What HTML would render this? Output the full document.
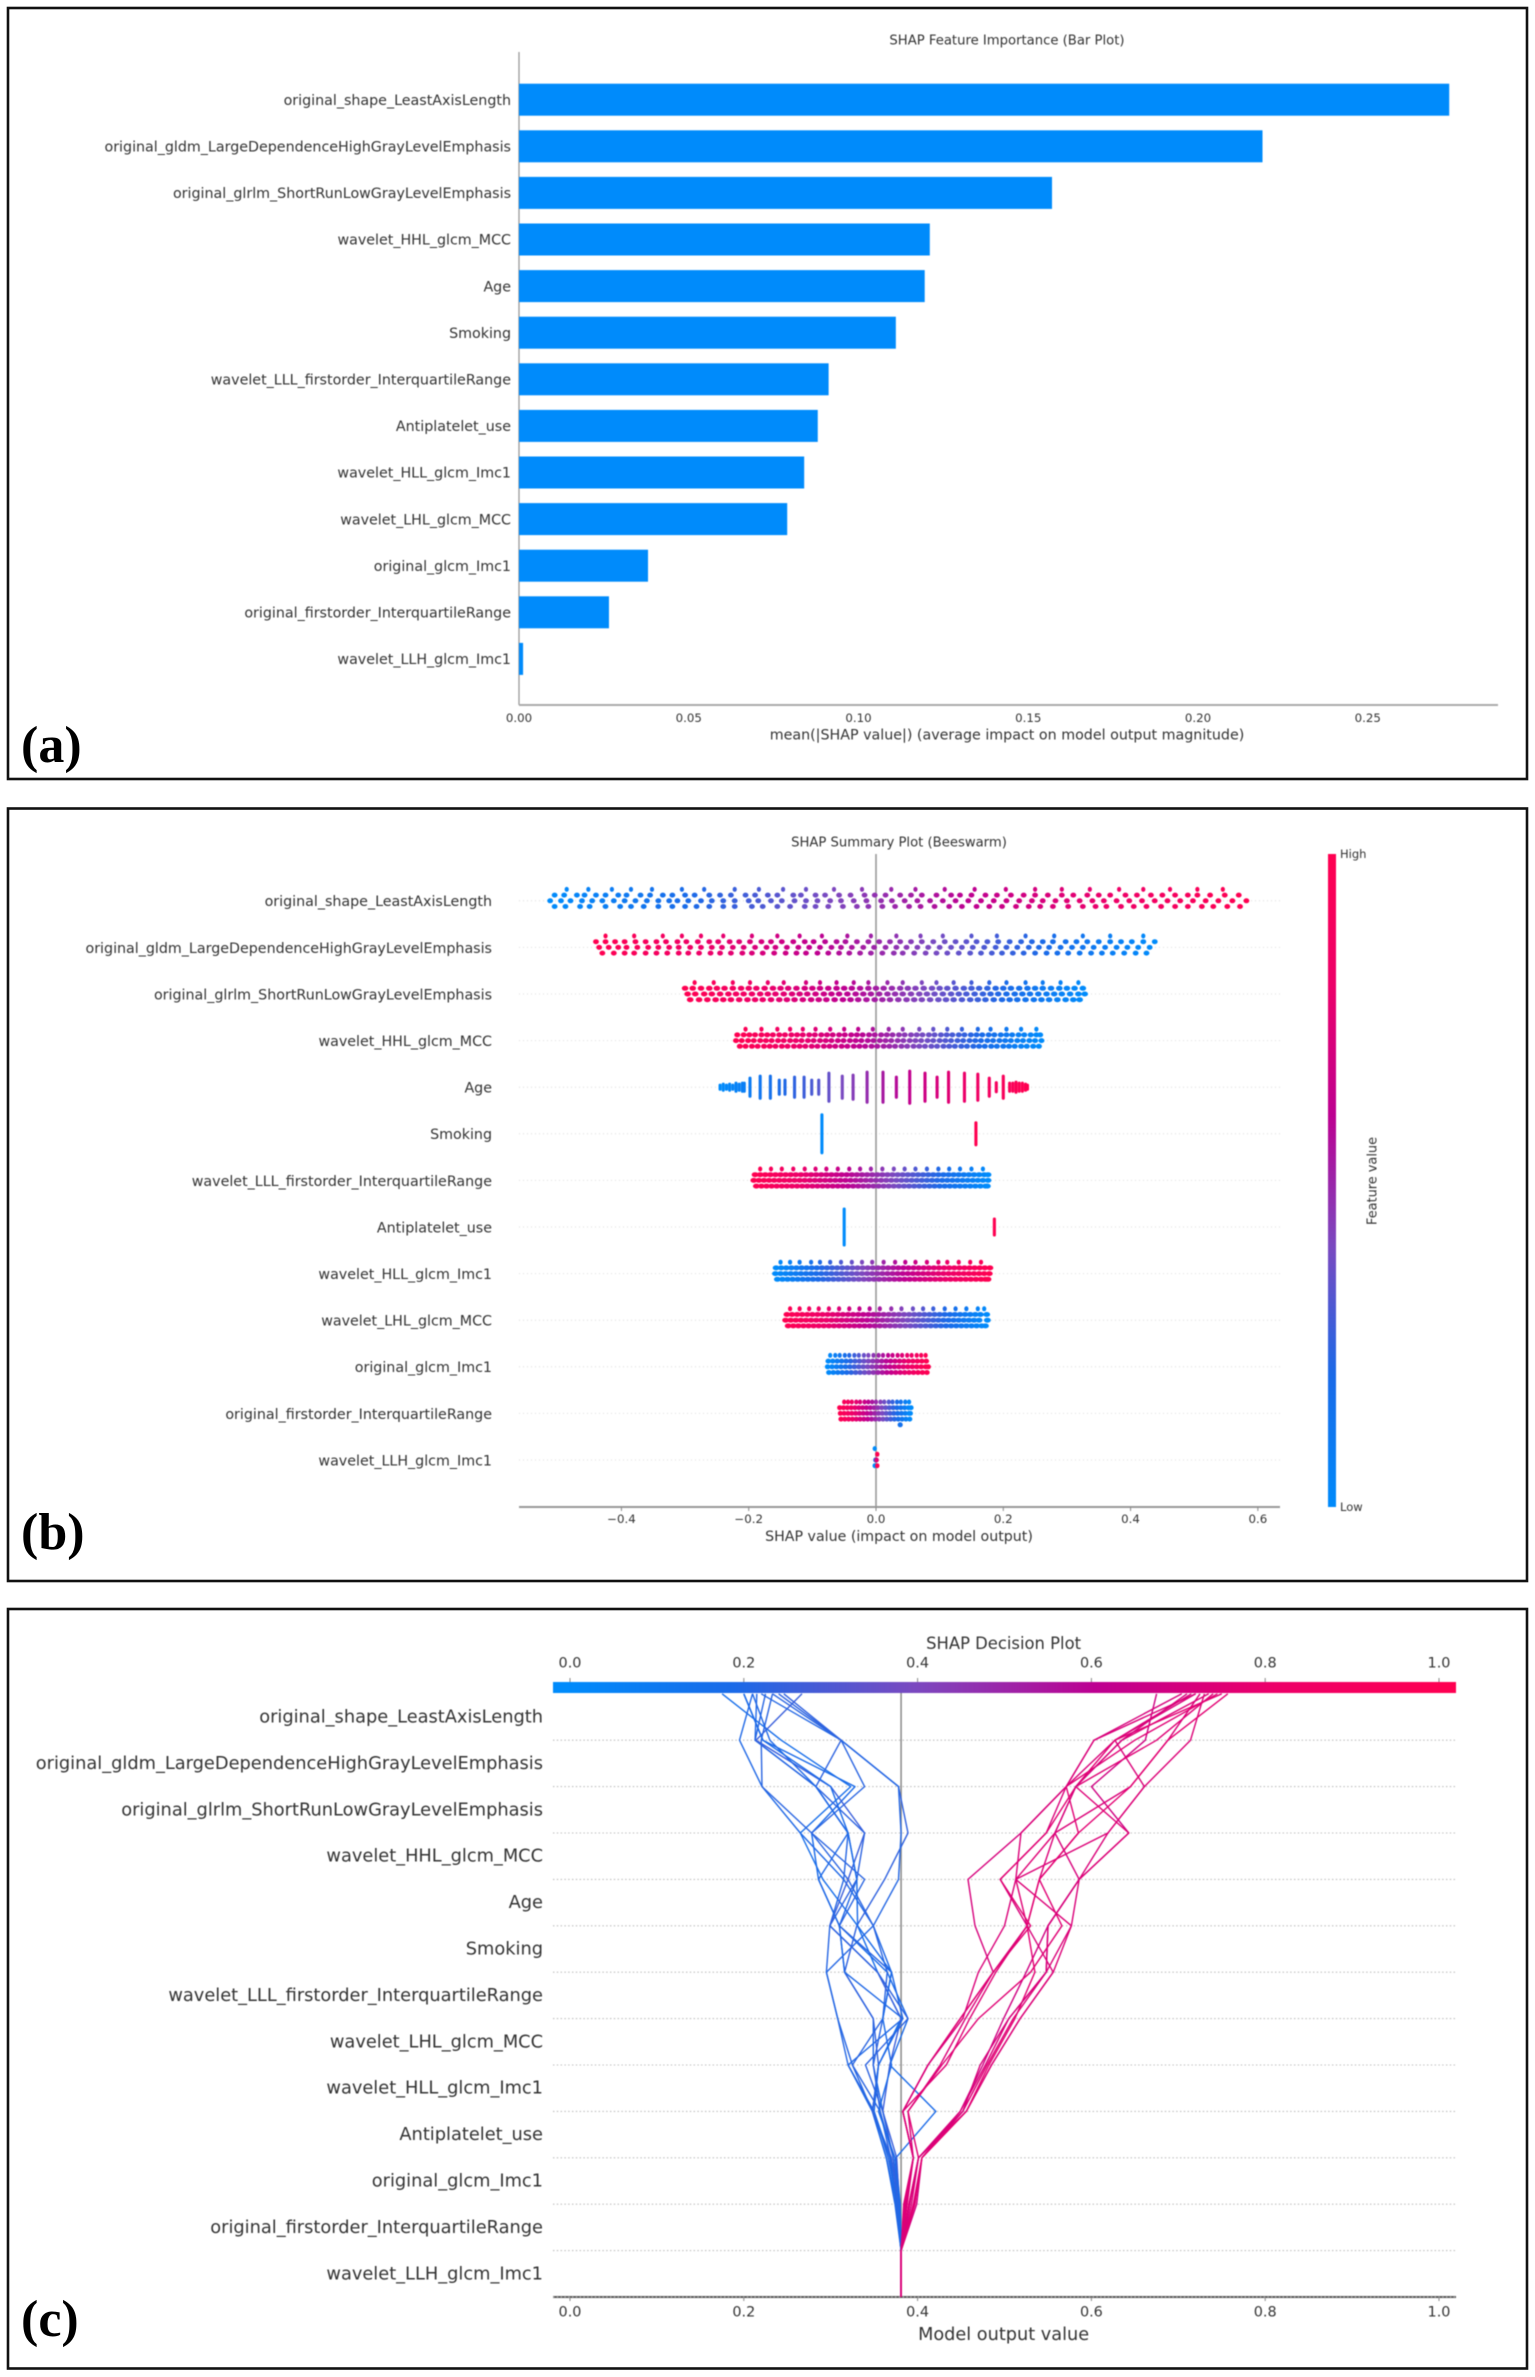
<!DOCTYPE html>
<html lang="en">
<head>
<meta charset="utf-8">
<title>SHAP analysis panels</title>
<style>
html,body{margin:0;padding:0;background:#fff;width:1535px;height:2377px;overflow:hidden}
svg{display:block;position:absolute;left:0;top:0}
text{font-family:"DejaVu Sans","Liberation Sans",sans-serif;fill:#333}
.letter{font-family:"Liberation Serif",serif;font-weight:bold;fill:#000;font-size:52px}
#panelA,#panelB,#panelC{filter:blur(0.45px)}
</style>
</head>
<body>
<svg id="fig" xmlns="http://www.w3.org/2000/svg" width="1535" height="2377" viewBox="0 0 1535 2377">
  <defs>
    <linearGradient id="cbarH" x1="0" x2="1" y1="0" y2="0">
      <stop offset="0.016" stop-color="#008bfb"/><stop offset="0.2" stop-color="#1a6ae8"/><stop offset="0.4" stop-color="#7a49c0"/><stop offset="0.6" stop-color="#bd0091"/><stop offset="0.8" stop-color="#ed0069"/><stop offset="1" stop-color="#ff0051"/>
    </linearGradient>
    <linearGradient id="cbarV" x1="0" x2="0" y1="1" y2="0">
      <stop offset="0" stop-color="#008bfb"/><stop offset="0.2" stop-color="#1a6ae8"/><stop offset="0.4" stop-color="#7a49c0"/><stop offset="0.6" stop-color="#bd0091"/><stop offset="0.8" stop-color="#ed0069"/><stop offset="1" stop-color="#ff0051"/>
    </linearGradient>
  </defs>
  <rect x="8" y="8" width="1519" height="771" fill="none" stroke="#111" stroke-width="2.6"/>
  <rect x="8" y="808.5" width="1519" height="772.5" fill="none" stroke="#111" stroke-width="2.6"/>
  <rect x="8" y="1609" width="1519" height="759.5" fill="none" stroke="#111" stroke-width="2.6"/>
  <text class="letter" x="21" y="762">(a)</text>
  <text class="letter" x="21" y="1549">(b)</text>
  <text class="letter" x="21" y="2336">(c)</text>
  <g id="panelA"></g>
  <g id="panelB"></g>
  <g id="panelC"></g>
</svg>
<script>
/* ---------- Panel (a): bar plot data ---------- */
const featureNames = ["original_shape_LeastAxisLength","original_gldm_LargeDependenceHighGrayLevelEmphasis","original_glrlm_ShortRunLowGrayLevelEmphasis","wavelet_HHL_glcm_MCC","Age","Smoking","wavelet_LLL_firstorder_InterquartileRange","Antiplatelet_use","wavelet_HLL_glcm_Imc1","wavelet_LHL_glcm_MCC","original_glcm_Imc1","original_firstorder_InterquartileRange","wavelet_LLH_glcm_Imc1"];
const meanAbsShap = [0.274,0.219,0.157,0.121,0.1195,0.111,0.0912,0.088,0.084,0.079,0.038,0.0265,0.0012];
const barTicks = [0,0.05,0.10,0.15,0.20,0.25];
const barTickLabels = ["0.00","0.05","0.10","0.15","0.20","0.25"];

/* ---------- Panel (b): beeswarm data (SHAP values x 1000, one list per swarm lane) ---------- */
const swarmTicks = [-0.4,-0.2,0,0.2,0.4,0.6];
const swarmTickLabels = ["\u22120.4","\u22120.2","0.0","0.2","0.4","0.6"];
const swarmLanes = [-2,-1,0,1,2];
const swarmDirection = [1,-1,-1,-1,1,1,-1,1,1,-1,1,-1,1];
const swarmShape = [
[-486,-452,-415,-385,-352,-305,-270,-222,-184,-146,-110,-66,-22,24,62,108,155,204,250,292,336,382,420,462,505,545],
[-505,-490,-470,-458,-440,-425,-405,-392,-370,-355,-335,-320,-300,-285,-262,-245,-228,-205,-190,-170,-155,-130,-118,-95,-80,-58,-40,-18,-2,15,38,55,72,95,118,132,150,172,190,212,232,250,270,292,310,332,350,368,392,410,432,450,470,490,505,525,548,570],
[-512,-495,-480,-462,-446,-430,-412,-395,-378,-360,-342,-325,-312,-295,-275,-258,-240,-222,-200,-185,-165,-148,-128,-110,-92,-72,-55,-35,-15,8,25,45,65,85,105,125,145,165,185,205,225,245,262,282,300,320,340,358,378,398,418,438,458,478,498,518,538,560,582],
[-505,-488,-465,-450,-425,-402,-385,-365,-342,-320,-300,-282,-262,-240,-222,-195,-178,-155,-135,-112,-95,-75,-52,-30,-12,10,30,52,70,92,115,135,158,178,198,220,240,258,278,302,325,345,362,385,405,425,448,470,490,512,530,552,572]];
const swarmGldm = [
[-425,-380,-335,-305,-275,-240,-195,-155,-120,-85,-45,-8,32,70,105,150,190,235,280,325,368,420],
[-440,-425,-410,-395,-378,-362,-345,-330,-312,-298,-280,-262,-248,-230,-215,-198,-180,-165,-148,-130,-112,-98,-80,-62,-48,-30,-12,5,22,38,55,72,90,108,125,142,158,175,192,210,228,245,262,278,298,315,332,350,368,385,402,420,438],
[-435,-420,-405,-392,-375,-358,-342,-325,-310,-292,-275,-258,-242,-225,-208,-190,-172,-158,-140,-122,-105,-88,-70,-55,-38,-20,-3,15,32,48,65,82,100,118,135,152,170,188,205,222,240,256,272,290,308,325,342,360,378,395,412,430],
[-430,-412,-395,-380,-362,-345,-328,-310,-295,-278,-260,-245,-228,-210,-195,-178,-160,-142,-125,-110,-92,-75,-58,-42,-25,-8,10,28,42,60,78,95,112,130,148,165,182,198,215,232,250,268,285,302,320,338,355,372,390,408,425]];
const swarmGlrlm = [
[-285,-255,-225,-198,-170,-145,-110,-88,-62,-35,-12,18,42,72,95,122,150,178,205,235,262,290,318],
[-300,-288,-275,-262,-250,-238,-225,-212,-200,-188,-175,-162,-150,-138,-125,-112,-100,-88,-75,-62,-50,-38,-25,-12,0,12,25,38,50,62,75,88,100,112,125,138,150,162,175,188,200,212,225,238,250,262,275,288,300,312,325],
[-296,-284,-270,-258,-245,-232,-220,-208,-195,-182,-170,-158,-145,-132,-120,-108,-95,-82,-70,-58,-45,-32,-20,-8,5,18,30,42,55,68,80,92,105,118,130,142,155,168,180,192,205,218,230,242,255,268,280,292,305,318,328],
[-292,-278,-265,-252,-240,-228,-215,-202,-190,-178,-165,-152,-140,-128,-115,-102,-90,-78,-65,-52,-40,-28,-15,-2,10,22,35,48,60,72,85,98,110,122,135,148,160,172,185,198,210,222,235,248,260,272,285,298,310,320]];
const swarmHhl = [
[-205,-180,-155,-135,-115,-95,-72,-50,-28,-5,20,42,68,90,112,135,160,180,205,228,252],
[-218,-208,-199,-190,-180,-171,-162,-152,-143,-133,-124,-115,-105,-96,-86,-77,-68,-58,-49,-39,-30,-21,-11,-2,8,17,26,36,45,55,64,73,83,92,102,111,120,130,139,149,158,167,177,186,196,205,214,224,233,243,252,258],
[-220,-211,-201,-192,-182,-173,-164,-154,-145,-135,-126,-117,-107,-98,-88,-79,-70,-60,-51,-41,-32,-23,-13,-4,6,15,24,34,43,53,62,71,81,90,100,109,118,128,137,147,156,165,175,184,194,203,212,222,231,241,250,260],
[-214,-205,-195,-186,-176,-167,-158,-148,-139,-129,-120,-111,-101,-92,-82,-73,-64,-54,-45,-35,-26,-17,-7,2,12,21,30,40,49,59,68,77,87,96,106,115,124,134,143,153,162,171,181,190,200,209,218,228,237,247,256]];
const swarmLll = [
[-182,-165,-148,-130,-112,-95,-78,-60,-42,-25,-8,10,28,45,62,80,98,115,132,150,168],
[-190,-182,-174,-166,-158,-150,-142,-134,-126,-118,-110,-102,-94,-86,-78,-70,-62,-54,-46,-38,-30,-22,-14,-6,2,10,18,26,34,42,50,58,66,74,82,90,98,106,114,122,130,138,146,154,162,170,176],
[-192,-184,-176,-168,-160,-152,-144,-136,-128,-120,-112,-104,-96,-88,-80,-72,-64,-56,-48,-40,-32,-24,-16,-8,0,8,16,24,32,40,48,56,64,72,80,88,96,104,112,120,128,136,144,152,160,168,176],
[-188,-180,-172,-164,-156,-148,-140,-132,-124,-116,-108,-100,-92,-84,-76,-68,-60,-52,-44,-36,-28,-20,-12,-4,4,12,20,28,36,44,52,60,68,76,84,92,100,108,116,124,132,140,148,156,164,172,175]];
const swarmHll = [
[-150,-135,-120,-102,-88,-72,-55,-38,-22,-6,12,30,46,62,80,98,112,130,148,165],
[-157,-149,-141,-133,-125,-117,-109,-101,-93,-85,-77,-69,-61,-53,-45,-37,-29,-21,-13,-5,3,11,19,27,35,43,51,59,67,75,83,91,99,107,115,123,131,139,147,155,163,171,179],
[-158,-150,-142,-134,-126,-118,-110,-102,-94,-86,-78,-70,-62,-54,-46,-38,-30,-22,-14,-6,2,10,18,26,34,42,50,58,66,74,82,90,98,106,114,122,130,138,146,154,162,170,178],
[-155,-147,-139,-131,-123,-115,-107,-99,-91,-83,-75,-67,-59,-51,-43,-35,-27,-19,-11,-3,5,13,21,29,37,45,53,61,69,77,85,93,101,109,117,125,133,141,149,157,165,172,176]];
const swarmLhl = [
[-135,-120,-105,-90,-74,-58,-42,-26,-10,6,24,40,58,74,90,108,125,142,160,170],
[-140,-132,-124,-116,-108,-100,-92,-84,-76,-68,-60,-52,-44,-36,-28,-20,-12,-4,4,12,20,28,36,44,52,60,68,76,84,92,100,108,116,124,132,140,148,156,164,174],
[-142,-134,-126,-118,-110,-102,-94,-86,-78,-70,-62,-54,-46,-38,-30,-22,-14,-6,2,10,18,26,34,42,50,58,66,74,82,90,98,106,114,122,130,138,146,154,162,175],
[-138,-130,-122,-114,-106,-98,-90,-82,-74,-66,-58,-50,-42,-34,-26,-18,-10,-2,6,14,22,30,38,46,54,62,70,78,86,94,102,110,118,126,134,142,150,158,166,172]];
const swarmImc = [
[-72,-64,-57,-49,-42,-34,-27,-19,-12,-4,4,11,19,26,34,41,49,56,64,71,78],
[-75,-68,-61,-54,-47,-40,-33,-26,-19,-12,-5,2,9,16,23,30,37,44,51,58,65,72,79],
[-76,-69,-62,-55,-48,-41,-34,-27,-20,-13,-6,1,8,15,22,29,36,43,50,57,64,71,78,82],
[-74,-67,-60,-53,-46,-39,-32,-25,-18,-11,-4,3,10,17,24,31,38,45,52,59,66,73,80]];
const swarmFirst = [
[-50,-44,-38,-31,-25,-18,-12,-6,0,7,13,20,26,33,39,46,52],
[-57,-51,-45,-39,-33,-27,-21,-15,-9,-3,3,9,15,21,27,33,39,45,51,55],
[-56,-50,-44,-38,-32,-26,-20,-14,-8,-2,4,10,16,22,28,34,40,46,52,54],
[-55,-49,-43,-37,-31,-25,-19,-13,-7,-1,5,11,17,23,29,35,41,47,53],
[38]];
const swarmLlh = [[-2],[2],[-1,1],[-2,2]];
const ageShap = [-0.245,-0.24,-0.235,-0.23,-0.225,-0.22,-0.215,-0.21,-0.207,-0.198,-0.182,-0.166,-0.152,-0.143,-0.128,-0.113,-0.101,-0.09,-0.074,-0.053,-0.036,-0.014,0.011,0.032,0.053,0.077,0.096,0.114,0.139,0.16,0.178,0.189,0.2,0.21,0.215,0.22,0.225,0.23,0.235,0.238];
const ageStack = [2,3,2,3,2,4,3,4,4,9,11,11,7,7,10,10,7,7,14,11,12,15,15,10,16,14,10,15,14,13,9,4.5,11,4,4,5,4,4,3,2];
const smokingShap = [-0.085,0.157];
const smokingStack = [19,11];
const antiplateletShap = [-0.05,0.186];
const antiplateletStack = [18,8];
const featureValueLabels = ["High","Low"];

/* ---------- Panel (c): decision plot data ---------- */
const decisionNames = ["original_shape_LeastAxisLength","original_gldm_LargeDependenceHighGrayLevelEmphasis","original_glrlm_ShortRunLowGrayLevelEmphasis","wavelet_HHL_glcm_MCC","Age","Smoking","wavelet_LLL_firstorder_InterquartileRange","wavelet_LHL_glcm_MCC","wavelet_HLL_glcm_Imc1","Antiplatelet_use","original_glcm_Imc1","original_firstorder_InterquartileRange","wavelet_LLH_glcm_Imc1"];
const decisionTicks = [0,0.2,0.4,0.6,0.8,1.0];
const decisionTickLabels = ["0.0","0.2","0.4","0.6","0.8","1.0"];
const baseValue = 0.381;
const blueSamples = [
[.175,.243,.323,.265,.291,.331,.354,.381,.355,.348,.364,.376,.381,.381],
[.2,.222,.328,.278,.286,.31,.365,.389,.368,.421,.375,.38,.381,.381],
[.21,.195,.221,.265,.315,.349,.37,.383,.32,.348,.364,.374,.381,.381],
[.215,.213,.283,.32,.33,.31,.316,.349,.349,.36,.372,.376,.381,.381],
[.225,.213,.283,.32,.315,.299,.295,.308,.325,.348,.368,.375,.381,.381],
[.233,.312,.339,.278,.32,.349,.365,.36,.349,.357,.369,.376,.381,.381],
[.246,.312,.378,.389,.362,.33,.316,.349,.355,.348,.37,.378,.381,.381],
[.267,.214,.30,.339,.32,.299,.354,.381,.368,.36,.376,.379,.381,.381],
[.233,.22,.221,.278,.339,.31,.37,.36,.325,.357,.372,.38,.381,.381],
[.22,.312,.378,.381,.378,.349,.295,.308,.32,.35,.366,.377,.381,.381],
[.24,.312,.283,.339,.33,.299,.354,.389,.34,.36,.372,.378,.381,.381],
[.21,.23,.283,.32,.286,.31,.316,.383,.355,.35,.368,.376,.381,.381],
[.2,.222,.30,.32,.33,.331,.37,.36,.37,.355,.374,.379,.381,.381]];
const pinkSamples = [
[.675,.662,.60,.643,.586,.55,.525,.499,.475,.449,.405,.399,.381,.381],
[.704,.603,.571,.519,.458,.466,.487,.449,.412,.383,.395,.385,.381,.381],
[.715,.627,.571,.548,.495,.526,.556,.518,.485,.456,.401,.39,.381,.381],
[.735,.635,.582,.643,.586,.55,.548,.51,.48,.452,.405,.395,.381,.381],
[.72,.627,.661,.619,.586,.577,.548,.505,.478,.449,.401,.393,.381,.381],
[.725,.688,.645,.558,.54,.526,.487,.455,.426,.389,.395,.386,.381,.381],
[.73,.714,.661,.619,.513,.577,.556,.518,.485,.456,.405,.396,.381,.381],
[.74,.675,.582,.558,.513,.526,.49,.46,.433,.383,.395,.384,.381,.381],
[.745,.65,.571,.585,.54,.566,.53,.47,.428,.389,.401,.39,.381,.381],
[.75,.627,.582,.548,.495,.53,.487,.449,.412,.383,.395,.388,.381,.381],
[.757,.688,.645,.585,.54,.526,.535,.512,.482,.456,.405,.397,.381,.381],
[.71,.635,.582,.558,.586,.55,.548,.505,.472,.452,.401,.391,.381,.381],
[.72,.603,.571,.519,.513,.50,.47,.452,.412,.383,.395,.387,.381,.381]];

/* ---------- Helpers ---------- */
const NS = "http://www.w3.org/2000/svg";
function mk(parent, tag, attrs, txt){
  const el = document.createElementNS(NS, tag);
  for (const k in attrs) el.setAttribute(k, attrs[k]);
  if (txt !== undefined) el.textContent = txt;
  parent.appendChild(el);
  return el;
}
const colorStops = [[0,[0,139,251]],[.2,[26,106,232]],[.4,[122,73,192]],[.6,[189,0,145]],[.8,[237,0,105]],[1,[255,0,81]]];
function shapColor(t){
  t = Math.max(0, Math.min(1, t));
  for (let i = 1; i < colorStops.length; i++){
    if (t <= colorStops[i][0]){
      const a = colorStops[i-1], b = colorStops[i], f = (t-a[0])/(b[0]-a[0]);
      const c = a[1].map((v,j)=>Math.round(v+(b[1][j]-v)*f));
      return "rgb("+c.join(",")+")";
    }
  }
  return "rgb(255,0,81)";
}

/* ---------- Panel (a) ---------- */
const pa = document.getElementById("panelA");
const xA = v => 519 + v*3395;
const yA = i => 99.7 + i*46.6;
{
  let e;
  e = mk(pa,"text",{x:1007,y:41,"text-anchor":"middle","dominant-baseline":"central","font-size":13.2},"SHAP Feature Importance (Bar Plot)");
  
  
  e = mk(pa,"text",{x:1007,y:735.5,"text-anchor":"middle","dominant-baseline":"central","font-size":14.26},"mean(|SHAP value|) (average impact on model output magnitude)");
  
  
  e = mk(pa,"line",{x1:519,x2:519,y1:52,y2:705,stroke:"#999","stroke-width":1.3});
  
  
  e = mk(pa,"line",{x1:519,x2:1498,y1:705,y2:705,stroke:"#aaa","stroke-width":2});
  
  
}
meanAbsShap.forEach((v,i)=>{
  const bar = mk(pa,"rect",{x:xA(0),y:yA(i)-16,width:xA(v)-xA(0),height:32,fill:"#008bfb"});
  
  
  const lab = mk(pa,"text",{x:511,y:yA(i)+1.2,"text-anchor":"end","dominant-baseline":"central","font-size":14.26},featureNames[i]);
  
  
});
barTicks.forEach((v,i)=>{
  const t = mk(pa,"text",{x:xA(v),y:718,"text-anchor":"middle","dominant-baseline":"central","font-size":11.8,fill:"#444"},barTickLabels[i]);
  
  
});

/* ---------- Panel (b) ---------- */
const pb = document.getElementById("panelB");
const xB = v => 876 + v*636.4;
const yB = i => 900.8 + i*46.6;
const swarmDotHalfWidth = [2.9,2.9,3.3,3,0,0,3.4,0,3.4,3.4,2.8,2.6,2.2];
{
  let e;
  e = mk(pb,"text",{x:899,y:843,"text-anchor":"middle","dominant-baseline":"central","font-size":13.2},"SHAP Summary Plot (Beeswarm)");
  
  
  e = mk(pb,"text",{x:899,y:1537,"text-anchor":"middle","dominant-baseline":"central","font-size":14.2},"SHAP value (impact on model output)");
  
  
  e = mk(pb,"line",{x1:519,x2:1280,y1:1507,y2:1507,stroke:"#999","stroke-width":2});
  
  
  e = mk(pb,"rect",{x:1328,y:854,width:8,height:653,fill:"url(#cbarV)"});
  
  
  e = mk(pb,"text",{x:1340,y:854,"dominant-baseline":"central","font-size":11.5},featureValueLabels[0]);
  
  
  e = mk(pb,"text",{x:1340,y:1507,"dominant-baseline":"central","font-size":11.5},featureValueLabels[1]);
  
  
  e = mk(pb,"text",{transform:"translate(1373,1181) rotate(-90)","text-anchor":"middle","dominant-baseline":"central","font-size":12.9},"Feature value");
  
  
}
featureNames.forEach((n,i)=>{
  const g = mk(pb,"line",{x1:519,x2:1280,y1:yB(i),y2:yB(i),stroke:"#ddd","stroke-width":1,"stroke-dasharray":"1 3"});
  
  
  const lab = mk(pb,"text",{x:492,y:yB(i)+1.4,"text-anchor":"end","dominant-baseline":"central","font-size":14.26},n);
  
  
});
{
  const z = mk(pb,"line",{x1:xB(0),x2:xB(0),y1:854,y2:1507,stroke:"#999","stroke-width":1.6});
  
  
}
function drawSwarm(row, lanes){
  const all = lanes.flat();
  const lo = Math.min(...all), hi = Math.max(...all);
  lanes.forEach((vals,l)=>{
    vals.forEach(v=>{
      let t = (v-lo)/(hi-lo);
      if (swarmDirection[row] < 0) t = 1-t;
      const c = mk(pb,"ellipse",{cx:xB(v/1000),cy:yB(row)+swarmLanes[l]*5.7,rx:l === 0 ? 2.1 : swarmDotHalfWidth[row],ry:2.5,fill:shapColor(t)});
      
      
    });
  });
}
function drawStacks(row, values, stacks){
  const lo = Math.min(...values), hi = Math.max(...values);
  values.forEach((v,i)=>{
    let t = (v-lo)/(hi-lo);
    if (swarmDirection[row] < 0) t = 1-t;
    const s = mk(pb,"line",{x1:xB(v),x2:xB(v),y1:yB(row)-stacks[i],y2:yB(row)+stacks[i],stroke:shapColor(t),"stroke-width":3.1,"stroke-linecap":"round"});
    
    
  });
}
drawSwarm(0,swarmShape);
drawSwarm(1,swarmGldm);
drawSwarm(2,swarmGlrlm);
drawSwarm(3,swarmHhl);
drawStacks(4,ageShap,ageStack);
drawStacks(5,smokingShap,smokingStack);
drawSwarm(6,swarmLll);
drawStacks(7,antiplateletShap,antiplateletStack);
drawSwarm(8,swarmHll);
drawSwarm(9,swarmLhl);
drawSwarm(10,swarmImc);
drawSwarm(11,swarmFirst);
drawSwarm(12,swarmLlh);
swarmTicks.forEach((v,i)=>{
  const t = mk(pb,"text",{x:xB(v),y:1519,"text-anchor":"middle","dominant-baseline":"central","font-size":11.8,fill:"#444"},swarmTickLabels[i]);
  
  
  const m = mk(pb,"line",{x1:xB(v),x2:xB(v),y1:1507,y2:1511,stroke:"#888","stroke-width":1});
  
  
});

/* ---------- Panel (c) ---------- */
const pc = document.getElementById("panelC");
const xC = v => 570 + v*869;
const yC = level => 2297 - level*46.4;
{
  let e;
  e = mk(pc,"text",{x:1003.6,y:1643.6,"text-anchor":"middle","dominant-baseline":"central","font-size":16.4},"SHAP Decision Plot");
  
  
  e = mk(pc,"text",{x:1003.6,y:2335,"text-anchor":"middle","dominant-baseline":"central","font-size":17.7},"Model output value");
  
  
  e = mk(pc,"rect",{x:553,y:1682,width:903,height:11,fill:"url(#cbarH)"});
  
  
  e = mk(pc,"line",{x1:553,x2:1456,y1:2297,y2:2297,stroke:"#555","stroke-width":2});
  
  
}
decisionNames.forEach((n,i)=>{
  const lab = mk(pc,"text",{x:543,y:yC(12-i)-23.2,"text-anchor":"end","dominant-baseline":"central","font-size":17.8},n);
  
  
  const g = mk(pc,"line",{x1:553,x2:1456,y1:yC(12-i),y2:yC(12-i),stroke:"#bbb","stroke-width":1.1,"stroke-dasharray":"1.4 2.4"});
  
  
});
decisionTicks.forEach((v,i)=>{
  const a = mk(pc,"text",{x:xC(v),y:1663.4,"text-anchor":"middle","dominant-baseline":"central","font-size":14.4,fill:"#555"},decisionTickLabels[i]);
  
  
  const b = mk(pc,"text",{x:xC(v),y:2312.6,"text-anchor":"middle","dominant-baseline":"central","font-size":14.4,fill:"#555"},decisionTickLabels[i]);
  
  
  const m = mk(pc,"line",{x1:xC(v),x2:xC(v),y1:1678,y2:1682,stroke:"#888","stroke-width":1});
  
  
  const n = mk(pc,"line",{x1:xC(v),x2:xC(v),y1:2297,y2:2301,stroke:"#888","stroke-width":1});
  
  
});
{
  const b = mk(pc,"line",{x1:xC(baseValue),x2:xC(baseValue),y1:1693,y2:2297,stroke:"#888","stroke-width":1.5});
  
  
}
function drawDecision(samples){
  samples.forEach(vals=>{
    const pts = vals.map((v,i)=>xC(v).toFixed(1)+","+yC(13-i).toFixed(1)).join(" ");
    const p = mk(pc,"polyline",{points:pts,fill:"none",stroke:shapColor(vals[0]),"stroke-width":1.4,"stroke-linejoin":"round"});
    
    
  });
}
drawDecision(blueSamples);
drawDecision(pinkSamples);
</script>
</body>
</html>
